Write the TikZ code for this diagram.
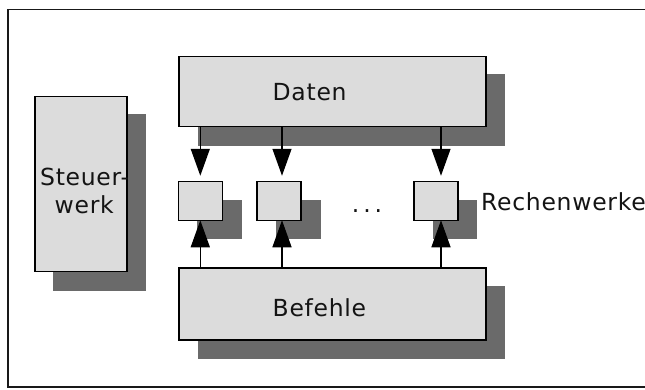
\documentclass[tikz,border=0pt]{standalone}
\usepackage{fontspec}
\setmainfont[LetterSpace=3]{DejaVu Sans}
\usetikzlibrary{arrows.meta}
\definecolor{boxgray}{HTML}{DCDCDC}
\definecolor{shadowgray}{HTML}{6A6A6A}
\begin{document}
\begin{tikzpicture}[x=1pt,y=-1pt,
  box/.style={draw=black, fill=boxgray, line width=1.4pt, inner sep=0pt, outer sep=0pt},
  arr/.style={line width=1.4pt, -{Triangle[length=27pt,width=19pt]}},
  lbl/.style={font=\fontsize{23.5}{28}\selectfont, inner sep=0pt, text=black!92}]
\useasboundingbox (0,0) rectangle (645,389);
\clip (0,0) rectangle (645,389);
% frame
\draw[line width=1.8pt, black!90] (8,9.5) rectangle (660,387);
% shadows
\fill[shadowgray] (198,74) rectangle (505,145.5);
\fill[shadowgray] (53,114) rectangle (146,291);
\fill[shadowgray] (198,286) rectangle (505,359);
\fill[shadowgray] (197,199.5) rectangle (242,239);
\fill[shadowgray] (276,199.5) rectangle (321,239);
\fill[shadowgray] (433,199.5) rectangle (477,239);
% boxes
\node[box, minimum width=307pt, minimum height=70pt] (daten) at (332.5,91.5) {};
\node[box, minimum width=92pt, minimum height=175pt] (steuer) at (81,184) {};
\node[box, minimum width=307pt, minimum height=72pt] (befehle) at (332.5,304) {};
\node[box, minimum width=44pt, minimum height=38.5pt] (r1) at (200.3,201) {};
\node[box, minimum width=44pt, minimum height=38.5pt] (r2) at (279,201) {};
\node[box, minimum width=44pt, minimum height=38.5pt] (r3) at (436,201) {};
% labels
\node[lbl, anchor=base west] (tdaten) at (272.5,100.5) {Daten};
\node[lbl, anchor=base west] (tbefehle) at (272.5,316.5) {Befehle};
\node[lbl, anchor=base west] (tsteuer) at (40,185) {Steuer-};
\node[lbl, anchor=base west] (twerk) at (54.5,213) {werk};
\node[lbl, anchor=base west] (trechen) at (481,210) {Rechenwerke};
\node[lbl, anchor=base] (dots) at (367,212) {.\,.\,.};
% arrows
\draw[arr, shorten >=6pt] (r1.north |- daten.south) -- (r1.north);
\draw[arr, shorten >=6pt] ([xshift=3pt]r2.north |- daten.south) -- ([xshift=3pt]r2.north);
\draw[arr, shorten >=6pt] ([xshift=5pt]r3.north |- daten.south) -- ([xshift=5pt]r3.north);
\draw[arr] (r1.south |- befehle.north) -- (r1.south);
\draw[arr] ([xshift=3pt]r2.south |- befehle.north) -- ([xshift=3pt]r2.south);
\draw[arr] ([xshift=5pt]r3.south |- befehle.north) -- ([xshift=5pt]r3.south);
\end{tikzpicture}
\end{document}
